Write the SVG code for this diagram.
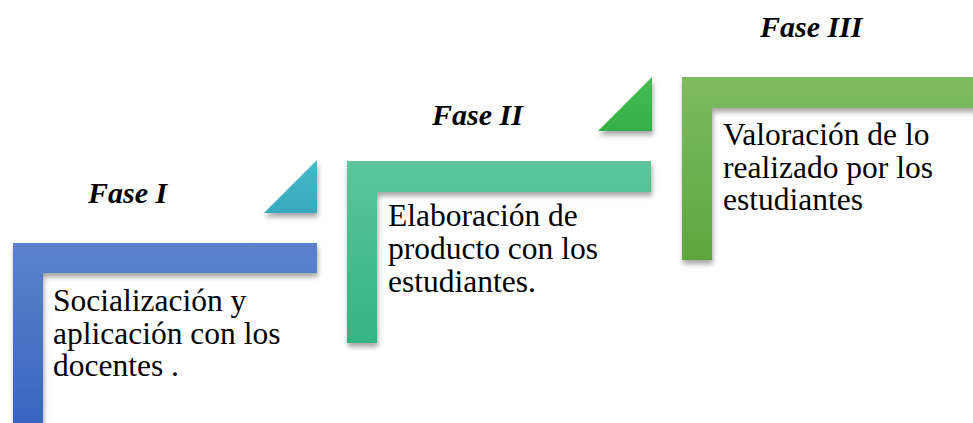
<svg xmlns="http://www.w3.org/2000/svg" width="973" height="423" viewBox="0 0 973 423">
<defs>
<filter id="sh" x="-10%" y="-10%" width="130%" height="130%">
<feDropShadow dx="1" dy="4" stdDeviation="2.5" flood-color="#000" flood-opacity="0.35"/>
</filter>
<linearGradient id="gBlue" x1="0" y1="0" x2="0" y2="1">
<stop offset="0" stop-color="#5c82ca"/><stop offset="1" stop-color="#3866c0"/>
</linearGradient>
<linearGradient id="gTeal" x1="0" y1="0" x2="0" y2="1">
<stop offset="0" stop-color="#5cc59c"/><stop offset="1" stop-color="#34b582"/>
</linearGradient>
<linearGradient id="gGreen" x1="0" y1="0" x2="0" y2="1">
<stop offset="0" stop-color="#7ebb63"/><stop offset="1" stop-color="#5ca73d"/>
</linearGradient>
<linearGradient id="gTri1" x1="0" y1="0" x2="0" y2="1">
<stop offset="0" stop-color="#45b9c8"/><stop offset="1" stop-color="#36aabf"/>
</linearGradient>
<linearGradient id="gTri2" x1="0" y1="0" x2="0" y2="1">
<stop offset="0" stop-color="#48bb55"/><stop offset="1" stop-color="#35b047"/>
</linearGradient>
</defs>
<style>
text{font-family:"Liberation Serif","Times New Roman","DejaVu Serif",serif;fill:#000}
.txt{font-size:31.5px}
.fase{font-size:30px;font-weight:bold;font-style:italic}
</style>
<g id="connectors"></g>
<g id="fase1">
<path d="M13 243 H317 V273 H43 V423 H13 Z" fill="url(#gBlue)" filter="url(#sh)"/>
<polygon points="317,160 317,213 264,213" fill="url(#gTri1)" filter="url(#sh)"/>
<text class="fase" x="88" y="203">Fase I</text>
<text class="txt" x="53" y="311">Socialización y</text>
<text class="txt" x="53" y="344">aplicación con los</text>
<text class="txt" x="53" y="376">docentes .</text>
</g>
<g id="fase2">
<path d="M347 161 H651 V192 H377 V343 H347 Z" fill="url(#gTeal)" filter="url(#sh)"/>
<polygon points="652,77 652,131 598,131" fill="url(#gTri2)" filter="url(#sh)"/>
<text class="fase" x="432" y="125">Fase II</text>
<text class="txt" x="388" y="226">Elaboración de</text>
<text class="txt" x="388" y="259">producto con los</text>
<text class="txt" x="388" y="292">estudiantes.</text>
</g>
<g id="fase3">
<path d="M682 77 H990 V108 H712 V260 H682 Z" fill="url(#gGreen)" filter="url(#sh)"/>
<text class="fase" x="760" y="37">Fase III</text>
<text class="txt" x="723" y="145">Valoración de lo</text>
<text class="txt" x="723" y="178">realizado por los</text>
<text class="txt" x="723" y="210">estudiantes</text>
</g>
</svg>
